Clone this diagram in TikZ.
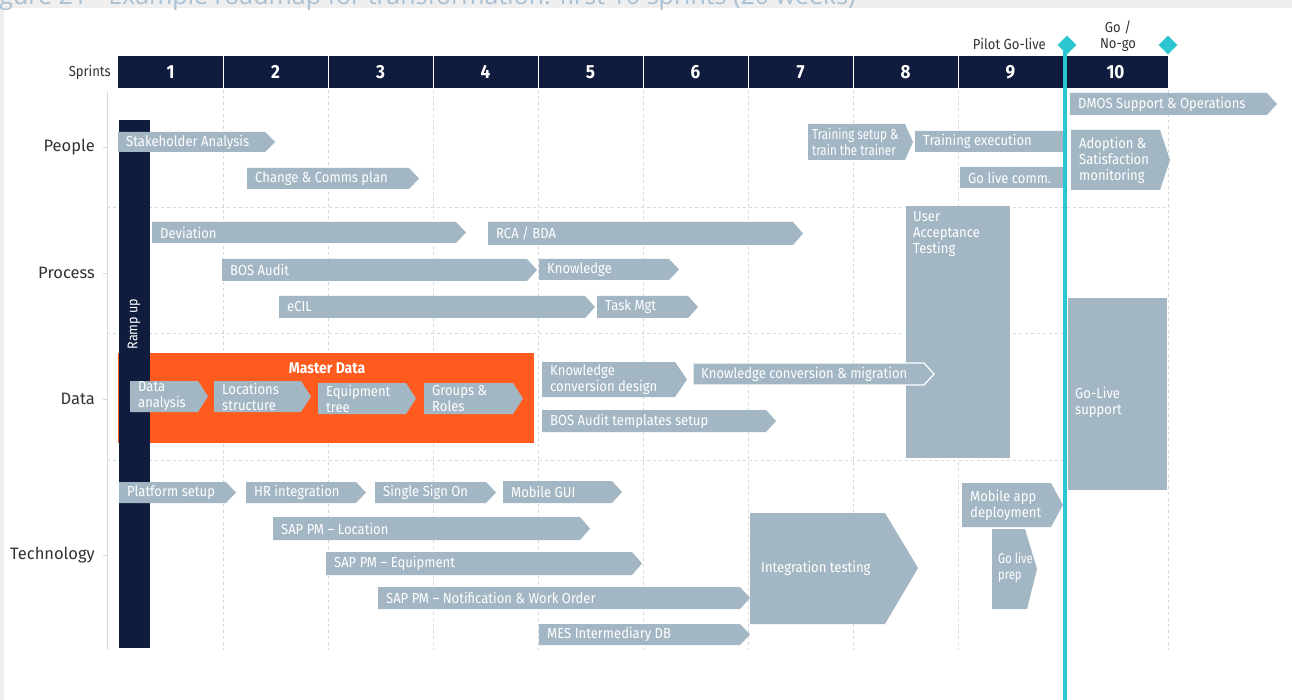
\documentclass[tikz,border=0pt]{standalone}
\usepackage{fontspec}
\setmainfont{Fira Sans}
\newfontfamily\cond{Fira Sans}[FakeStretch=0.9]
\newfontfamily\narrowf{Fira Sans}[FakeStretch=0.8]
\newfontfamily\capfont{Open Sans}
\usetikzlibrary{shapes.geometric}
\definecolor{navy}{HTML}{101C3D}
\definecolor{boxgray}{HTML}{A3B6C4}
\definecolor{mdorange}{HTML}{FF5B1E}
\definecolor{cyanline}{HTML}{2CC5D2}
\definecolor{gridgray}{HTML}{D3D9DE}
\definecolor{stripgray}{HTML}{EFEFEF}
\definecolor{capblue}{HTML}{A9C0D3}
\definecolor{labeltext}{HTML}{333333}
\tikzset{
  boxtxt/.style={anchor=west, inner sep=0, text=white, font=\cond\fontsize{14.5}{16}\selectfont, align=left},
  rowlabel/.style={anchor=east, inner sep=0, text=labeltext, font=\fontsize{16.5}{16.5}\selectfont},
  smalllabel/.style={inner sep=0, text=labeltext, font=\cond\fontsize{14.5}{16}\selectfont, align=center},
  gridline/.style={draw=gridgray, dashed, line width=0.6pt},
  sprintnum/.style={inner sep=0, text=white, font=\bfseries\cond\fontsize{19}{19}\selectfont},
  milestone/.style={diamond, fill=cyanline, minimum width=19pt, minimum height=19pt, inner sep=0},
}
\newcommand{\chv}[7]{%
  \fill[boxgray] (#2,#3) -- ({#4-#6},#3) -- (#4,{(#3+#5)/2}) -- ({#4-#6},#5) -- (#2,#5) -- cycle;
  \node[boxtxt] (#1) at ({#2+8},{(#3+#5)/2}) {#7};
}
\begin{document}
\begin{tikzpicture}[x=1pt,y=-1pt]
\useasboundingbox (0,0) rectangle (1292,700);
\clip (0,0) rectangle (1292,700);
\fill[white] (0,0) rectangle (1292,700);
\fill[stripgray] (0,0) rectangle (1292,8);
\fill[stripgray] (0,0) rectangle (4,700);
\node[anchor=base west, inner sep=0, text=capblue, font=\capfont\fontsize{25}{25}\selectfont] (caption) at (-20,5) {Figure 21 - Example roadmap for transformation: first 10 sprints (20 weeks)};

% grid
\foreach \i in {1,...,10} {
  \draw[gridline] ({118+105*\i},90) -- ({118+105*\i},650);
}
\foreach \y in {207,333,460} {
  \draw[gridline] (107,\y) -- (1170,\y);
}
\draw[draw=gridgray, line width=0.8pt] (107,92) -- (107,650);
\foreach \y in {147,273,399,555} {
  \draw[draw=gridgray, line width=0.8pt] (103,\y) -- (107,\y);
}

% header
\fill[navy] (118,56) rectangle (1168,88);
\foreach \i in {1,...,9} {
  \draw[white, line width=0.8pt] ({118+105*\i},56) -- ({118+105*\i},88);
}
\foreach \i in {1,...,10} {
  \node[sprintnum] (s\i) at ({118+105*(\i-0.5)},72) {\i};
}
\node[smalllabel, anchor=east] (sprints) at (111,72) {Sprints};

% row labels
\node[rowlabel] (people) at (95,147) {People};
\node[rowlabel] (process) at (95,273) {Process};
\node[rowlabel] (data) at (95,399) {Data};
\node[rowlabel] (technology) at (95,555) {Technology};

% master data block
\fill[mdorange] (118,353) rectangle (534,443);

% ramp up
\fill[navy] (119,120) rectangle (150,648);
\node[inner sep=0, text=white, rotate=90, font=\cond\fontsize{14}{14}\selectfont] (ramp) at (134,324) {Ramp up};

\node[inner sep=0, text=white, font=\bfseries\cond\fontsize{15.5}{15.5}\selectfont] (mdlabel) at (327,368) {Master Data};

% People
\chv{stake}{118}{132}{275}{152}{10}{Stakeholder Analysis}
\chv{ccp}{247}{168}{419}{189}{10}{Change \& Comms plan}
\fill[boxgray] (808,124) -- (905,124) -- (913,142) -- (905,160) -- (808,160) -- cycle;
\node[boxtxt, font=\narrowf\fontsize{14.5}{16}\selectfont] (tst) at (812,142) {Training setup \&\\train the trainer};
\chv{texe}{915}{131}{1063}{152}{0}{Training execution}
\chv{glc}{960}{167}{1063}{188}{0}{Go live comm.}
\chv{dmos}{1070}{93}{1277}{115}{10}{DMOS Support \& Operations}
\chv{adopt}{1071}{130}{1170}{190}{10}{Adoption \&\\Satisfaction\\monitoring}

% Process
\chv{dev}{152}{222}{466}{243}{10}{Deviation}
\chv{rca}{488}{222}{803}{245}{10}{RCA / BDA}
\chv{bos}{222}{259}{537}{281}{10}{BOS Audit}
\chv{know}{539}{259}{679}{280}{10}{Knowledge}
\chv{ecil}{279}{296}{595}{318}{10}{eCIL}
\chv{task}{597}{296}{698}{318}{10}{Task Mgt}
\fill[boxgray] (906,206) rectangle (1010,458);
\node[boxtxt, anchor=north west] (uat) at (913,211) {User\\Acceptance\\Testing};

% Data
\chv{da}{130}{381}{208}{412}{10}{Data\\analysis}
\chv{ls}{214}{381}{311}{412}{10}{Locations\\structure}
\chv{et}{318}{383}{416}{414}{10}{Equipment\\tree}
\chv{gr}{424}{383}{523}{414}{10}{Groups \&\\Roles}
\chv{kcd}{542}{362}{687}{397}{12}{Knowledge\\conversion design}
\fill[boxgray, draw=white, line width=1.2pt] (693,363) -- (924,363) -- (934,374) -- (924,385) -- (693,385) -- cycle;
\node[boxtxt] (kcm) at (701,374) {Knowledge conversion \& migration};
\chv{bat}{542}{410}{776}{432}{10}{BOS Audit templates setup}
\fill[boxgray] (1068,298) rectangle (1167,490);
\node[boxtxt] (gls) at (1075,402) {Go-Live\\support};

% Technology
\chv{ps}{119}{482}{236}{503}{10}{Platform setup}
\chv{hr}{246}{482}{366}{503}{10}{HR integration}
\chv{sso}{375}{482}{496}{503}{10}{Single Sign On}
\chv{mgui}{503}{481}{622}{503}{10}{Mobile GUI}
\chv{sapl}{273}{517}{590}{540}{10}{SAP PM – Location}
\chv{sape}{326}{552}{642}{575}{10}{SAP PM – Equipment}
\chv{sapn}{378}{587}{750}{609}{10}{SAP PM – Notification \& Work Order}
\chv{mes}{539}{624}{750}{645}{10}{MES Intermediary DB}
\fill[boxgray] (750,513) -- (885,513) -- (918,568) -- (885,624) -- (750,624) -- cycle;
\node[boxtxt] (it) at (761,568) {Integration testing};
\chv{mad}{962}{483}{1063}{527}{12}{Mobile app\\deployment}
\fill[boxgray] (992,529) -- (1025,529) -- (1037,569) -- (1027,609) -- (992,609) -- cycle;
\node[boxtxt, font=\narrowf\fontsize{14}{16}\selectfont] (glp) at (998,568) {Go live\\prep};

% milestone line
\coordinate (lineTop) at (1065,45);
\coordinate (lineBot) at (1065,700);
\draw[cyanline, line width=3.5pt] (lineTop) -- (lineBot);
\node[milestone] (pilot) at (1067,45) {};
\node[milestone] (gonogo) at (1168,45) {};
\node[smalllabel, anchor=east] (pilotlabel) at (1046,44) {Pilot Go-live};
\node[smalllabel] (gonogolabel) at (1118,36) {Go /\\No-go};
\end{tikzpicture}
\end{document}
